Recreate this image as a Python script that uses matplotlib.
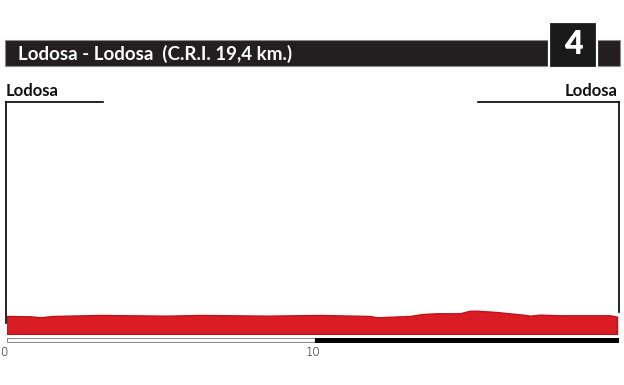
import matplotlib.pyplot as plt
from matplotlib.patches import Rectangle

# stage profile (km, metres)
km = [0.0, 0.76, 1.09, 1.51, 3.03, 5.2, 6.27, 8.44, 10.16, 11.78, 12.01,
      13.08, 13.5, 13.95, 14.7, 15.02, 15.25, 15.9, 16.74, 16.97, 17.29,
      17.94, 19.56, 19.79]
alt = [323.3, 322.9, 321.6, 323.3, 324.6, 323.7, 324.6, 323.7, 324.6,
       323.3, 321.6, 323.3, 325.9, 326.8, 326.8, 330.1, 330.1, 328.4,
       325.0, 323.7, 325.0, 324.2, 324.2, 322.4]
scale_ticks = [0, 10]
scale_end = 19.9
title = 'Lodosa - Lodosa  (C.R.I. 19,4 km.)'
stage_no = '4'
start_name = 'Lodosa'
finish_name = 'Lodosa'

W, H = 624, 385
FONT = ['Lato', 'DejaVu Sans']
RED = '#da1c24'
DARK_RED = '#c4101a'

fig = plt.figure(figsize=(W / 100, H / 100), dpi=100)

# pixel-space overlay for the header and frame
bg = fig.add_axes([0, 0, 1, 1])
bg.set_xlim(0, W)
bg.set_ylim(H, 0)
bg.axis('off')

bg.add_patch(Rectangle((5, 39.5), 615, 26.5, facecolor='#231f20',
                       edgecolor='#8a8a8a', lw=0.8))
bg.add_patch(Rectangle((549, 22), 48, 46, facecolor='#1a1a1a',
                       edgecolor='white', lw=1.6, zorder=3))
bg.text(18, 53.5, title, color='white', fontsize=13.5, fontweight='bold',
        family=FONT, va='center', ha='left')
bg.text(573, 44.5, stage_no, color='white', fontsize=23, fontweight='heavy',
        family=FONT, va='center', ha='center', zorder=4)

bg.text(6, 91.5, start_name, fontsize=12, fontweight='bold', family=FONT,
        va='center', ha='left', color='#111111')
bg.text(618, 91.5, finish_name, fontsize=12, fontweight='bold', family=FONT,
        va='center', ha='right', color='#111111')

# frame lines
lw = 1.2
bg.plot([6, 6], [102, 323], color='black', lw=lw)
bg.plot([6, 103], [102, 102], color='black', lw=lw)
bg.plot([478, 619], [102, 102], color='black', lw=lw)
bg.plot([619, 619], [102, 312], color='black', lw=lw)

# profile
ax = fig.add_axes([6.5 / W, 1 - 334 / H, (619 - 6.5) / W, (334 - 102) / H])
ax.set_xlim(0, (619 - 6.5) / 30.85)
ax.set_ylim(300, 600)
ax.axis('off')
ax.fill_between(km, 300, alt, facecolor=RED, edgecolor=DARK_RED, lw=1.0)

# distance scale bar
sb = fig.add_axes([6.5 / W, 1 - 342.5 / H, (619 - 6.5) / W, 5 / H])
sb.set_xlim(ax.get_xlim())
sb.set_ylim(0, 1)
sb.axis('off')
sb.barh(0.5, scale_ticks[1] - scale_ticks[0], left=scale_ticks[0],
        height=0.8, color='white', edgecolor='#8c8c8c', lw=0.8)
sb.barh(0.5, scale_end - scale_ticks[1], left=scale_ticks[1],
        height=0.8, color='black', edgecolor='black', lw=0.8)
for t in scale_ticks:
    sb.text(t - 0.05, -1.8, str(t), fontsize=8.5, family=['DejaVu Sans'],
            fontweight='light', ha='center', va='center', color='black')

fig.savefig('out.png', dpi=100)
